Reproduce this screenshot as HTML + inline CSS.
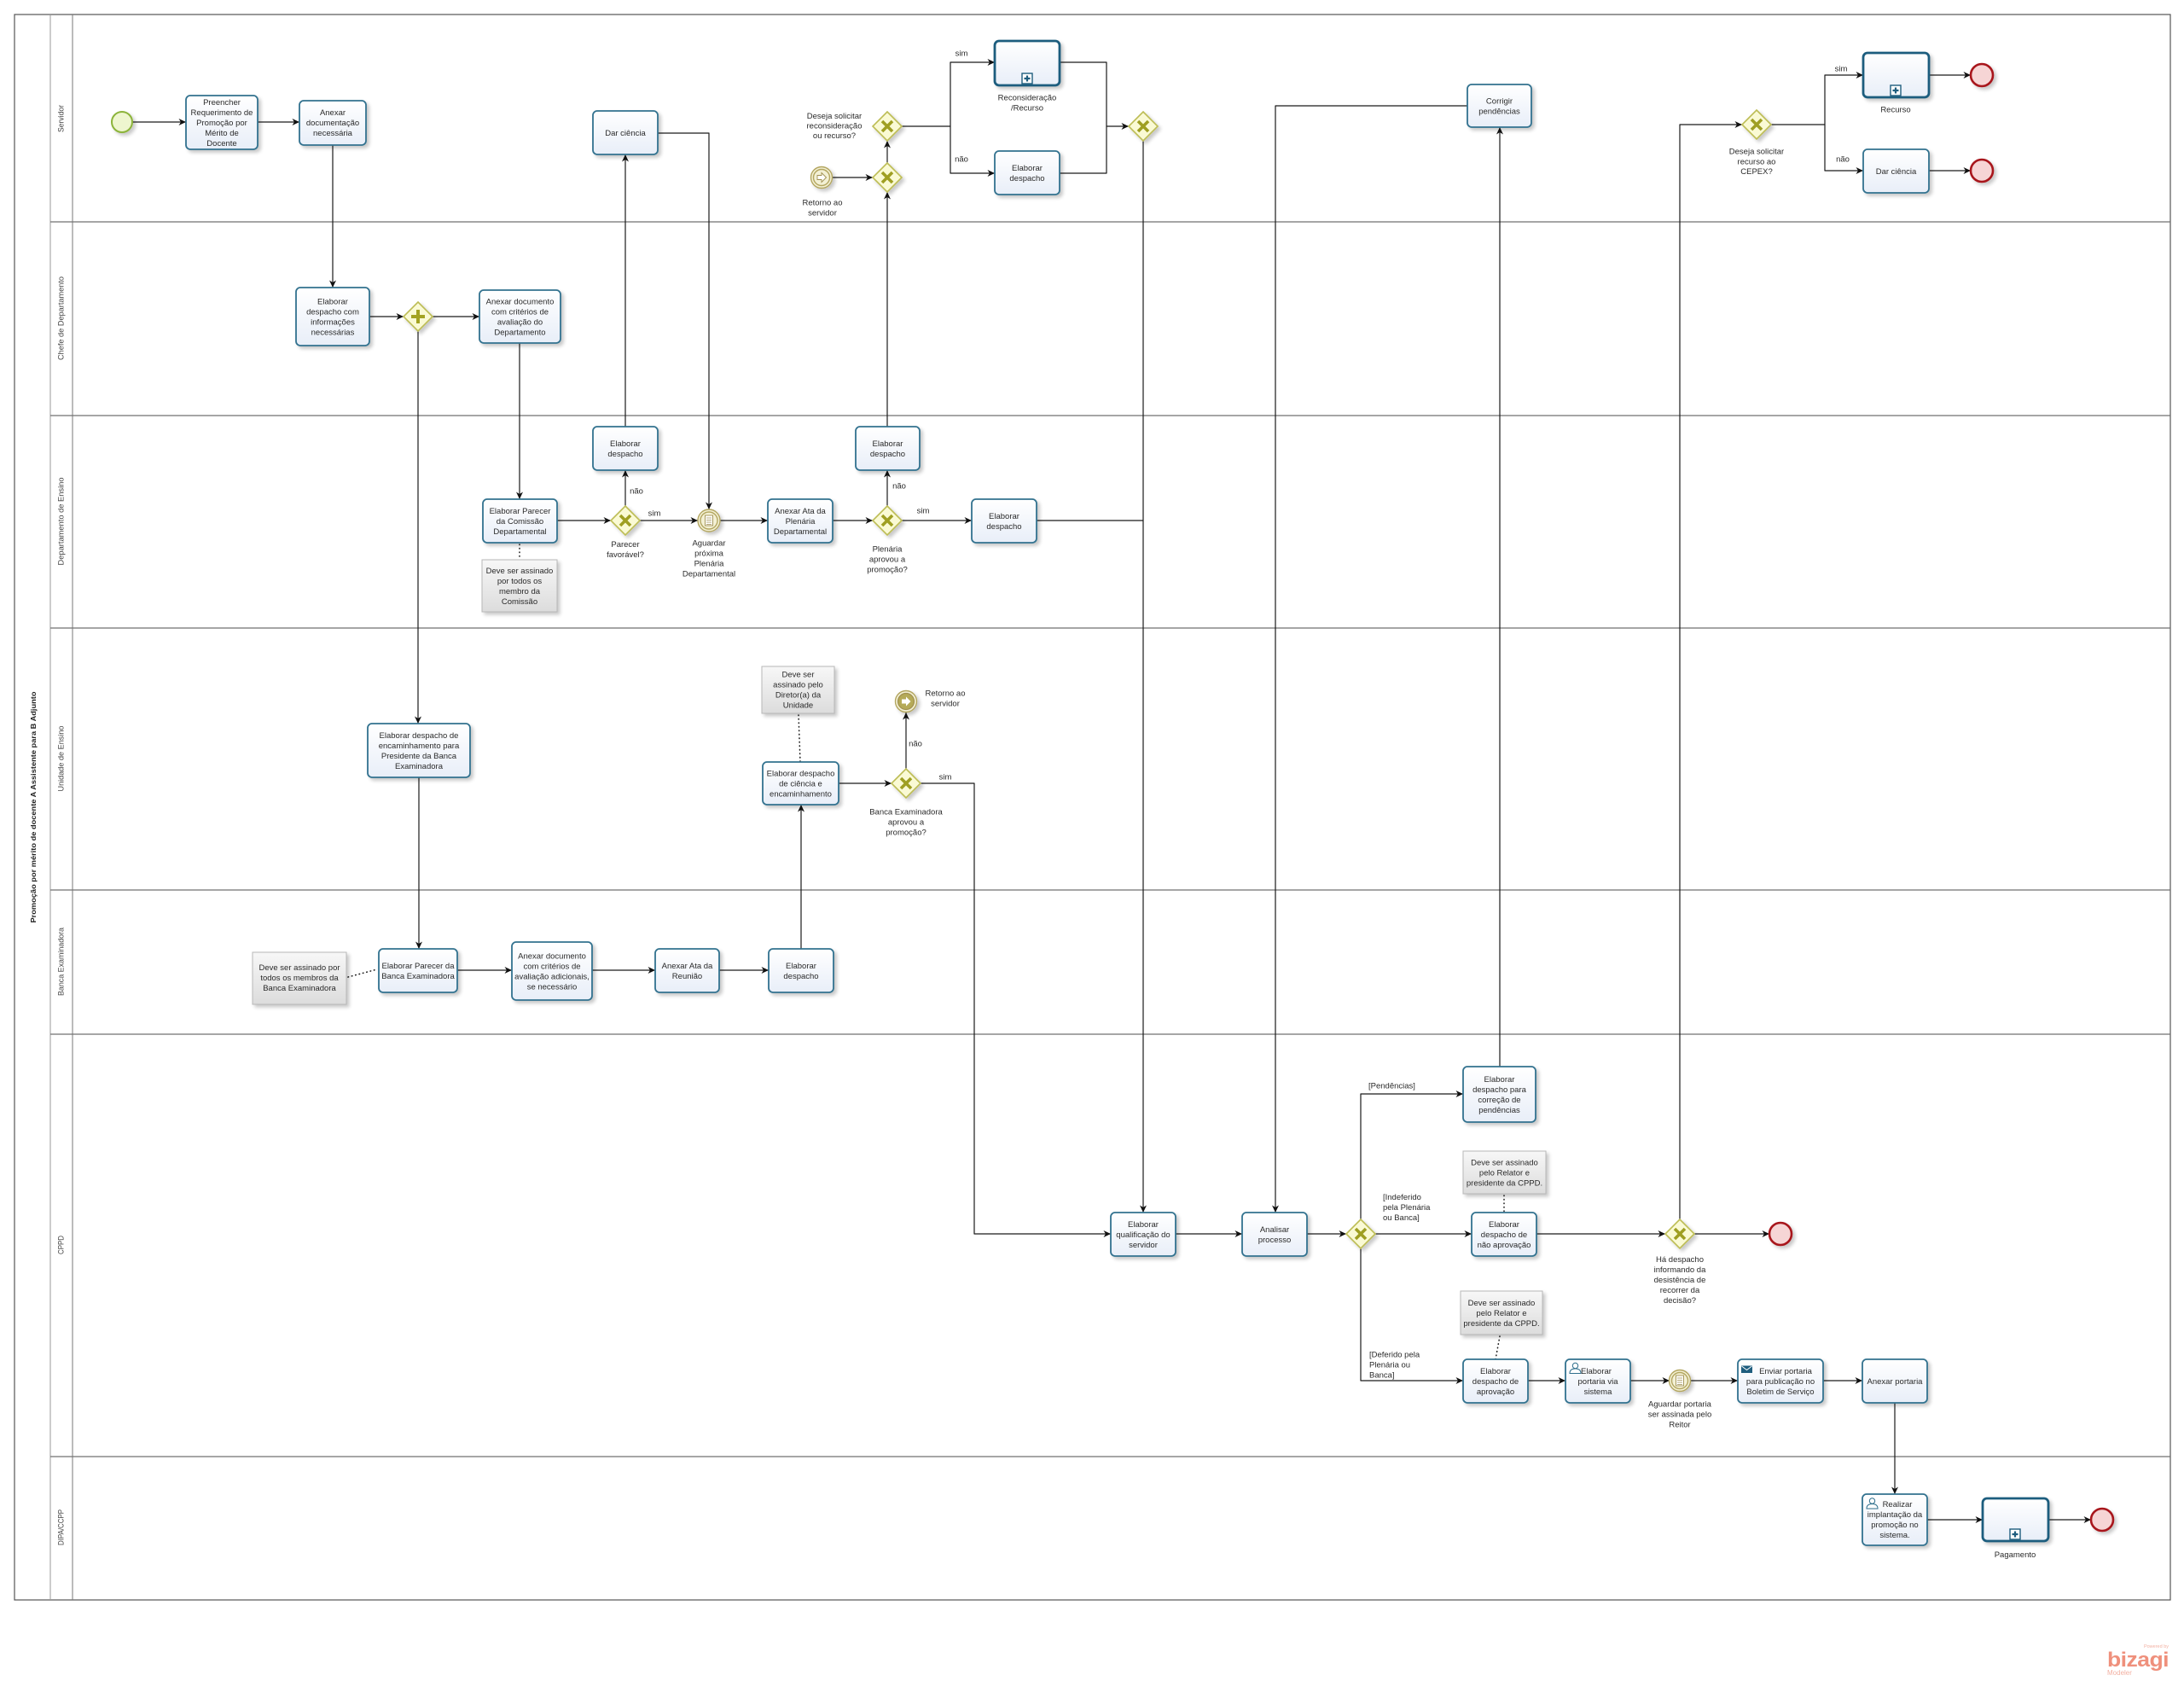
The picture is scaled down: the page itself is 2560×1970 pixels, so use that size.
<!DOCTYPE html>
<html lang="pt">
<head>
<meta charset="utf-8">
<title>Promoção por mérito de docente A Assistente para B Adjunto</title>
<style>
html,body{margin:0;padding:0;background:#fff;}
body{width:2560px;height:1970px;overflow:hidden;}
svg{display:block;}
.t{fill:url(#tg);stroke:#33728f;stroke-width:1.8;filter:url(#sh);}
.sp{fill:url(#tg);stroke:#1e5d7e;stroke-width:2.8;filter:url(#sh);}
.n{fill:url(#ng);stroke:#b8b8b8;stroke-width:1;filter:url(#sh);}
.c{fill:none;stroke:#1a1a1a;stroke-width:1.2;marker-end:url(#ar);stroke-linejoin:round;}
.cn{fill:none;stroke:#1a1a1a;stroke-width:1.2;stroke-linejoin:round;}
.d{fill:none;stroke:#222;stroke-width:1.6;stroke-dasharray:0.5 4;stroke-linecap:round;}
.g{fill:#fafad4;stroke:#bdbd55;stroke-width:1.6;filter:url(#sh);}
.gx{stroke:#9f9f22;stroke-width:3.6;fill:none;}
.gp{stroke:#a3a322;stroke-width:4;fill:none;}
text{font-family:"Liberation Sans",Arial,sans-serif;font-size:9.5px;fill:#2a2a2a;text-anchor:middle;}
.l{text-anchor:start;}
.ll{font-size:9px;fill:#444;}
.pt{font-size:8.6px;font-weight:bold;fill:#222;}
.ev{fill:#f3f0d4;stroke:#b3a660;stroke-width:1.4;filter:url(#sh);}
.evi{fill:none;stroke:#b3a660;stroke-width:1.4;}
.st{fill:#eef6cf;stroke:#8cb43a;stroke-width:2;filter:url(#sh);}
.en{fill:#f6d5d5;stroke:#a8191c;stroke-width:2.6;filter:url(#sh);}
.mk{fill:#fff;stroke:#1e5d7e;stroke-width:1.4;}
</style>
</head>
<body>
<svg width="2560" height="1970" viewBox="0 0 2560 1970" xmlns="http://www.w3.org/2000/svg">
<defs>
<linearGradient id="tg" x1="0" y1="0" x2="0" y2="1"><stop offset="0" stop-color="#ffffff"/><stop offset="1" stop-color="#e8eef8"/></linearGradient>
<linearGradient id="ng" x1="0" y1="0" x2="0" y2="1"><stop offset="0" stop-color="#f7f7f7"/><stop offset="1" stop-color="#dcdcdc"/></linearGradient>
<filter id="sh" x="-20%" y="-20%" width="150%" height="160%">
<feGaussianBlur in="SourceAlpha" stdDeviation="2"/>
<feOffset dx="3" dy="3" result="o"/>
<feComponentTransfer><feFuncA type="linear" slope="0.22"/></feComponentTransfer>
<feMerge><feMergeNode/><feMergeNode in="SourceGraphic"/></feMerge>
</filter>
<marker id="ar" markerUnits="userSpaceOnUse" markerWidth="9" markerHeight="9" refX="8.5" refY="4.5" orient="auto" viewBox="0 0 9 9">
<path d="M0,0.5 L8.5,4.5 L0,8.5 L2.5,4.5 z" fill="#111"/>
</marker>
</defs>

<!-- Pool & lanes -->
<rect x="17" y="17" width="2527" height="1858" fill="#fff" stroke="#555" stroke-width="1.2"/>
<path d="M59,17V1875" stroke="#9a9a9a" stroke-width="1"/>
<path d="M85,17V1875" stroke="#777" stroke-width="1"/>
<path d="M59,260H2544M59,487H2544M59,736H2544M59,1043H2544M59,1212H2544M59,1707H2544" stroke="#727272" stroke-width="1.3" fill="none"/>

<text class="pt" transform="translate(42,946) rotate(-90)" textLength="271" lengthAdjust="spacingAndGlyphs">Promoção por mérito de docente A Assistente para B Adjunto</text>
<text class="ll" transform="translate(74.5,139) rotate(-90)" textLength="32" lengthAdjust="spacingAndGlyphs">Servidor</text>
<text class="ll" transform="translate(74.5,373) rotate(-90)" textLength="98" lengthAdjust="spacingAndGlyphs">Chefe de Departamento</text>
<text class="ll" transform="translate(74.5,611) rotate(-90)" textLength="103" lengthAdjust="spacingAndGlyphs">Departamento  de Ensino</text>
<text class="ll" transform="translate(74.5,889) rotate(-90)" textLength="77" lengthAdjust="spacingAndGlyphs">Unidade de Ensino</text>
<text class="ll" transform="translate(74.5,1127) rotate(-90)" textLength="80" lengthAdjust="spacingAndGlyphs">Banca Examinadora</text>
<text class="ll" transform="translate(74.5,1459) rotate(-90)" textLength="22" lengthAdjust="spacingAndGlyphs">CPPD</text>
<text class="ll" transform="translate(74.5,1790) rotate(-90)" textLength="42" lengthAdjust="spacingAndGlyphs">DIPA/CCPP</text>

<!-- Connectors -->
<path class="c" d="M155,143H218"/>
<path class="c" d="M302,143H351"/>
<path class="c" d="M390,170V337"/>
<path class="c" d="M771,156H831V597"/>
<path class="c" d="M975,208H1023"/>
<path class="c" d="M1040,191V165"/>
<path class="c" d="M1040,500V225"/>
<path class="c" d="M1057,148H1114V73H1166"/>
<path class="c" d="M1114,148V203H1166"/>
<path class="c" d="M1242,73H1297V148H1323"/>
<path class="cn" d="M1242,203H1297V148"/>
<path class="c" d="M1340,165V1421"/>
<path class="c" d="M1720,124H1495V1421"/>
<path class="c" d="M1758,1250V149"/>
<path class="c" d="M1969,1429V146H2042"/>
<path class="c" d="M2076,146H2139V88H2184"/>
<path class="c" d="M2139,146V200H2184"/>
<path class="c" d="M2261,88H2310"/>
<path class="c" d="M2261,200H2310"/>
<path class="c" d="M433,371H473"/>
<path class="c" d="M507,371H562"/>
<path class="c" d="M490,388V848"/>
<path class="c" d="M609,402V585"/>
<path class="c" d="M653,610H716"/>
<path class="c" d="M733,593V551"/>
<path class="c" d="M750,610H818"/>
<path class="c" d="M733,500V181"/>
<path class="c" d="M844,610H900"/>
<path class="c" d="M976,610H1023"/>
<path class="c" d="M1040,593V551"/>
<path class="c" d="M1057,610H1139"/>
<path class="cn" d="M1215,610H1340"/>
<path class="c" d="M491,911V1112"/>
<path class="c" d="M983,918H1045"/>
<path class="c" d="M1062,901V835"/>
<path class="c" d="M1079,918H1142V1446H1302"/>
<path class="c" d="M536,1137H600"/>
<path class="c" d="M694,1137H768"/>
<path class="c" d="M843,1137H901"/>
<path class="c" d="M939,1112V943"/>
<path class="c" d="M1378,1446H1456"/>
<path class="c" d="M1532,1446H1578"/>
<path class="c" d="M1595,1429V1282H1715"/>
<path class="c" d="M1612,1446H1725"/>
<path class="c" d="M1595,1463V1618H1715"/>
<path class="c" d="M1801,1446H1952"/>
<path class="c" d="M1986,1446H2074"/>
<path class="c" d="M1791,1618H1835"/>
<path class="c" d="M1911,1618H1957"/>
<path class="c" d="M1981,1618H2037"/>
<path class="c" d="M2137,1618H2183"/>
<path class="c" d="M2221,1644V1751"/>
<path class="c" d="M2259,1781H2324"/>
<path class="c" d="M2401,1781H2451"/>

<!-- Association dotted lines -->
<path class="d" d="M609,638V656"/>
<path class="d" d="M936,838L938,893"/>
<path class="d" d="M408,1145L442,1136"/>
<path class="d" d="M1763,1401V1421"/>
<path class="d" d="M1758,1566L1753,1593"/>

<!-- Connector labels -->
<text x="1127" y="65.5">sim</text>
<text x="1127" y="189.5">não</text>
<text x="746" y="578.5">não</text>
<text x="767" y="604.5">sim</text>
<text x="1054" y="572.5">não</text>
<text x="1082" y="601.5">sim</text>
<text x="1073" y="874.5">não</text>
<text x="1108" y="913.5">sim</text>
<text x="2158" y="83.5">sim</text>
<text x="2160" y="189.5">não</text>
<text class="l" x="1604" y="1275.5">[Pendências]</text>
<text class="l"><tspan x="1621" y="1406">[Indeferido</tspan><tspan x="1621" y="1418">pela Plenária</tspan><tspan x="1621" y="1430">ou Banca]</tspan></text>
<text class="l"><tspan x="1605" y="1590.5">[Deferido pela</tspan><tspan x="1605" y="1602.5">Plenária ou</tspan><tspan x="1605" y="1614.5">Banca]</tspan></text>

<!-- ===== Servidor ===== -->
<circle class="st" cx="143" cy="143" r="12"/>

<rect class="t" x="218" y="112" width="84" height="63" rx="5"/>
<text><tspan x="260" y="122.8">Preencher</tspan><tspan x="260" y="134.8">Requerimento de</tspan><tspan x="260" y="146.8">Promoção por</tspan><tspan x="260" y="158.8">Mérito de</tspan><tspan x="260" y="170.8">Docente</tspan></text>

<rect class="t" x="351" y="118" width="78" height="52" rx="5"/>
<text><tspan x="390" y="135">Anexar</tspan><tspan x="390" y="147">documentação</tspan><tspan x="390" y="159">necessária</tspan></text>

<rect class="t" x="695" y="130" width="76" height="51" rx="5"/>
<text x="733" y="159">Dar ciência</text>

<!-- Retorno ao servidor (catch) -->
<g transform="translate(963,208)">
<circle class="ev" r="12.5"/><circle class="evi" r="9.5"/>
<path d="M-5,-2.5H0V-5.5L5.5,0L0,5.5V2.5H-5Z" fill="#fff" stroke="#a09050" stroke-width="0.9"/>
</g>
<text><tspan x="964" y="240.5">Retorno ao</tspan><tspan x="964" y="252.5">servidor</tspan></text>

<g transform="translate(1040,208)"><path class="g" d="M0,-17L17,0L0,17L-17,0Z"/><path class="gx" d="M-6,-6L6,6M6,-6L-6,6"/></g>
<g transform="translate(1040,148)"><path class="g" d="M0,-17L17,0L0,17L-17,0Z"/><path class="gx" d="M-6,-6L6,6M6,-6L-6,6"/></g>
<text><tspan x="978" y="139">Deseja solicitar</tspan><tspan x="978" y="150.5">reconsideração</tspan><tspan x="978" y="162">ou recurso?</tspan></text>

<rect class="sp" x="1166" y="48" width="76" height="52" rx="5"/>
<rect class="mk" x="1198" y="86" width="12" height="12"/>
<path d="M1204,88.5V95.5M1200.5,92H1207.5" stroke="#1e5d7e" stroke-width="2.2"/>
<text><tspan x="1204" y="117.5">Reconsideração</tspan><tspan x="1204" y="129.5">/Recurso</tspan></text>

<rect class="t" x="1166" y="177" width="76" height="51" rx="5"/>
<text><tspan x="1204" y="200">Elaborar</tspan><tspan x="1204" y="212">despacho</tspan></text>

<g transform="translate(1340,148)"><path class="g" d="M0,-17L17,0L0,17L-17,0Z"/><path class="gx" d="M-6,-6L6,6M6,-6L-6,6"/></g>

<rect class="t" x="1720" y="99" width="75" height="50" rx="5"/>
<text><tspan x="1757.5" y="121.5">Corrigir</tspan><tspan x="1757.5" y="133.5">pendências</tspan></text>

<g transform="translate(2059,146)"><path class="g" d="M0,-17L17,0L0,17L-17,0Z"/><path class="gx" d="M-6,-6L6,6M6,-6L-6,6"/></g>
<text><tspan x="2059" y="180.5">Deseja solicitar</tspan><tspan x="2059" y="192.5">recurso ao</tspan><tspan x="2059" y="204">CEPEX?</tspan></text>

<rect class="sp" x="2184" y="62" width="77" height="52" rx="5"/>
<rect class="mk" x="2216" y="100" width="12" height="12"/>
<path d="M2222,102.5V109.5M2218.5,106H2225.5" stroke="#1e5d7e" stroke-width="2.2"/>
<text x="2222" y="131.5">Recurso</text>
<circle class="en" cx="2323" cy="88" r="13"/>

<rect class="t" x="2184" y="175" width="77" height="51" rx="5"/>
<text x="2222.5" y="204">Dar ciência</text>
<circle class="en" cx="2323" cy="200" r="13"/>

<!-- ===== Chefe de Departamento ===== -->
<rect class="t" x="347" y="337" width="86" height="68" rx="5"/>
<text><tspan x="390" y="356.5">Elaborar</tspan><tspan x="390" y="368.5">despacho com</tspan><tspan x="390" y="380.5">informações</tspan><tspan x="390" y="392.5">necessárias</tspan></text>

<g transform="translate(490,371)"><path class="g" d="M0,-17L17,0L0,17L-17,0Z"/><path class="gp" d="M0,-8V8M-8,0H8"/></g>

<rect class="t" x="562" y="340" width="95" height="62" rx="5"/>
<text><tspan x="609.5" y="356.5">Anexar documento</tspan><tspan x="609.5" y="368.5">com critérios de</tspan><tspan x="609.5" y="380.5">avaliação do</tspan><tspan x="609.5" y="392.5">Departamento</tspan></text>

<!-- ===== Departamento de Ensino ===== -->
<rect class="t" x="695" y="500" width="76" height="51" rx="5"/>
<text><tspan x="733" y="523">Elaborar</tspan><tspan x="733" y="535">despacho</tspan></text>

<rect class="t" x="566" y="585" width="87" height="51" rx="5"/>
<text><tspan x="609.5" y="602">Elaborar Parecer</tspan><tspan x="609.5" y="614">da Comissão</tspan><tspan x="609.5" y="626">Departamental</tspan></text>

<rect class="n" x="565" y="656" width="88" height="61"/>
<text><tspan x="609" y="672">Deve ser assinado</tspan><tspan x="609" y="684">por todos os</tspan><tspan x="609" y="696">membro da</tspan><tspan x="609" y="708">Comissão</tspan></text>

<g transform="translate(733,610)"><path class="g" d="M0,-17L17,0L0,17L-17,0Z"/><path class="gx" d="M-6,-6L6,6M6,-6L-6,6"/></g>
<text><tspan x="733" y="641">Parecer</tspan><tspan x="733" y="653">favorável?</tspan></text>

<g transform="translate(831,610)">
<circle class="ev" r="13"/><circle class="evi" r="10"/>
<rect x="-4.5" y="-6" width="9" height="12" fill="#fff" stroke="#a09050" stroke-width="0.9"/>
<path d="M-3,-3H3M-3,-0.5H3M-3,2H3M-3,4.5H3" stroke="#a09050" stroke-width="0.8"/>
</g>
<text><tspan x="831" y="639.5">Aguardar</tspan><tspan x="831" y="651.5">próxima</tspan><tspan x="831" y="663.5">Plenária</tspan><tspan x="831" y="675.5">Departamental</tspan></text>

<rect class="t" x="900" y="585" width="76" height="51" rx="5"/>
<text><tspan x="938" y="602">Anexar Ata da</tspan><tspan x="938" y="614">Plenária</tspan><tspan x="938" y="626">Departamental</tspan></text>

<g transform="translate(1040,610)"><path class="g" d="M0,-17L17,0L0,17L-17,0Z"/><path class="gx" d="M-6,-6L6,6M6,-6L-6,6"/></g>
<text><tspan x="1040" y="646.5">Plenária</tspan><tspan x="1040" y="658.5">aprovou a</tspan><tspan x="1040" y="670.5">promoção?</tspan></text>

<rect class="t" x="1003" y="500" width="75" height="51" rx="5"/>
<text><tspan x="1040.5" y="523">Elaborar</tspan><tspan x="1040.5" y="535">despacho</tspan></text>

<rect class="t" x="1139" y="585" width="76" height="51" rx="5"/>
<text><tspan x="1177" y="608">Elaborar</tspan><tspan x="1177" y="620">despacho</tspan></text>

<!-- ===== Unidade de Ensino ===== -->
<rect class="t" x="431" y="848" width="120" height="63" rx="5"/>
<text><tspan x="491" y="865">Elaborar despacho de</tspan><tspan x="491" y="877">encaminhamento para</tspan><tspan x="491" y="889">Presidente da Banca</tspan><tspan x="491" y="901">Examinadora</tspan></text>

<rect class="n" x="893" y="781" width="85" height="55"/>
<text><tspan x="935.5" y="793.5">Deve ser</tspan><tspan x="935.5" y="805.5">assinado pelo</tspan><tspan x="935.5" y="817.5">Diretor(a) da</tspan><tspan x="935.5" y="829.5">Unidade</tspan></text>

<rect class="t" x="894" y="893" width="89" height="50" rx="5"/>
<text><tspan x="938.5" y="909.5">Elaborar despacho</tspan><tspan x="938.5" y="921.5">de ciência e</tspan><tspan x="938.5" y="933.5">encaminhamento</tspan></text>

<g transform="translate(1062,918)"><path class="g" d="M0,-17L17,0L0,17L-17,0Z"/><path class="gx" d="M-6,-6L6,6M6,-6L-6,6"/></g>
<text><tspan x="1062" y="954.5">Banca Examinadora</tspan><tspan x="1062" y="966.5">aprovou a</tspan><tspan x="1062" y="978.5">promoção?</tspan></text>

<g transform="translate(1062,822)">
<circle class="ev" r="12.5"/><circle cx="0" cy="0" r="9.5" fill="#b5aa58" stroke="#a09050" stroke-width="1.2"/>
<path d="M-5,-2.5H0V-5.5L5.5,0L0,5.5V2.5H-5Z" fill="#fff" stroke="none"/>
</g>
<text><tspan x="1108" y="815.5">Retorno ao</tspan><tspan x="1108" y="827.5">servidor</tspan></text>

<!-- ===== Banca Examinadora ===== -->
<rect class="n" x="296" y="1116" width="110" height="61"/>
<text><tspan x="351" y="1137">Deve ser assinado por</tspan><tspan x="351" y="1149">todos os membros da</tspan><tspan x="351" y="1161">Banca  Examinadora</tspan></text>

<rect class="t" x="444" y="1112" width="92" height="51" rx="5"/>
<text><tspan x="490" y="1135">Elaborar Parecer da</tspan><tspan x="490" y="1147">Banca Examinadora</tspan></text>

<rect class="t" x="600" y="1104" width="94" height="68" rx="5"/>
<text><tspan x="647" y="1123.5">Anexar documento</tspan><tspan x="647" y="1135.5">com critérios de</tspan><tspan x="647" y="1147.5">avaliação adicionais,</tspan><tspan x="647" y="1159.5">se necessário</tspan></text>

<rect class="t" x="768" y="1112" width="75" height="51" rx="5"/>
<text><tspan x="805.5" y="1135">Anexar Ata da</tspan><tspan x="805.5" y="1147">Reunião</tspan></text>

<rect class="t" x="901" y="1112" width="76" height="51" rx="5"/>
<text><tspan x="939" y="1135">Elaborar</tspan><tspan x="939" y="1147">despacho</tspan></text>

<!-- ===== CPPD ===== -->
<rect class="t" x="1302" y="1421" width="76" height="51" rx="5"/>
<text><tspan x="1340" y="1438">Elaborar</tspan><tspan x="1340" y="1450">qualificação do</tspan><tspan x="1340" y="1462">servidor</tspan></text>

<rect class="t" x="1456" y="1421" width="76" height="51" rx="5"/>
<text><tspan x="1494" y="1444">Analisar</tspan><tspan x="1494" y="1456">processo</tspan></text>

<g transform="translate(1595,1446)"><path class="g" d="M0,-17L17,0L0,17L-17,0Z"/><path class="gx" d="M-6,-6L6,6M6,-6L-6,6"/></g>

<rect class="t" x="1715" y="1250" width="85" height="65" rx="5"/>
<text><tspan x="1757.5" y="1268">Elaborar</tspan><tspan x="1757.5" y="1280">despacho para</tspan><tspan x="1757.5" y="1292">correção de</tspan><tspan x="1757.5" y="1304">pendências</tspan></text>

<rect class="n" x="1715" y="1349" width="97" height="50"/>
<text><tspan x="1763.5" y="1365.5">Deve ser assinado</tspan><tspan x="1763.5" y="1377.5">pelo Relator e</tspan><tspan x="1763.5" y="1389.5">presidente da CPPD.</tspan></text>

<rect class="t" x="1725" y="1421" width="76" height="51" rx="5"/>
<text><tspan x="1763" y="1438">Elaborar</tspan><tspan x="1763" y="1450">despacho de</tspan><tspan x="1763" y="1462">não aprovação</tspan></text>

<rect class="n" x="1712" y="1513" width="96" height="51"/>
<text><tspan x="1760" y="1530">Deve ser assinado</tspan><tspan x="1760" y="1542">pelo Relator e</tspan><tspan x="1760" y="1554">presidente da CPPD.</tspan></text>

<rect class="t" x="1715" y="1593" width="76" height="51" rx="5"/>
<text><tspan x="1753" y="1610">Elaborar</tspan><tspan x="1753" y="1622">despacho de</tspan><tspan x="1753" y="1634">aprovação</tspan></text>

<rect class="t" x="1835" y="1593" width="76" height="51" rx="5"/>
<g fill="#fff" stroke="#2f6f8c" stroke-width="1">
<path d="M1840,1609.5q0,-5.5 6.5,-5.5q6.5,0 6.5,5.5z"/>
<circle cx="1846.5" cy="1600.5" r="3.2"/>
</g>
<text><tspan x="1871" y="1610">Elaborar</tspan><tspan x="1873" y="1622">portaria via</tspan><tspan x="1873" y="1634">sistema</tspan></text>

<g transform="translate(1969,1618)">
<circle class="ev" r="12.5"/><circle class="evi" r="9.5"/>
<rect x="-4.5" y="-6" width="9" height="12" fill="#fff" stroke="#a09050" stroke-width="0.9"/>
<path d="M-3,-3H3M-3,-0.5H3M-3,2H3M-3,4.5H3" stroke="#a09050" stroke-width="0.8"/>
</g>
<text><tspan x="1969" y="1648.5">Aguardar portaria</tspan><tspan x="1969" y="1660.5">ser assinada pelo</tspan><tspan x="1969" y="1672.5">Reitor</tspan></text>

<rect class="t" x="2037" y="1593" width="100" height="51" rx="5"/>
<rect x="2041" y="1600.5" width="13" height="8.5" fill="#1e5d7e"/>
<path d="M2041.5,1601L2047.5,1605.5L2053.5,1601" stroke="#fff" stroke-width="1" fill="none"/>
<text><tspan x="2093" y="1610">Enviar portaria</tspan><tspan x="2087" y="1622">para publicação no</tspan><tspan x="2087" y="1634">Boletim de Serviço</tspan></text>

<rect class="t" x="2183" y="1593" width="76" height="51" rx="5"/>
<text x="2221" y="1622">Anexar portaria</text>

<g transform="translate(1969,1446)"><path class="g" d="M0,-17L17,0L0,17L-17,0Z"/><path class="gx" d="M-6,-6L6,6M6,-6L-6,6"/></g>
<text><tspan x="1969" y="1479">Há despacho</tspan><tspan x="1969" y="1491">informando da</tspan><tspan x="1969" y="1503">desistência de</tspan><tspan x="1969" y="1515">recorrer da</tspan><tspan x="1969" y="1527">decisão?</tspan></text>

<circle class="en" cx="2087" cy="1446" r="13"/>

<!-- ===== DIPA/CCPP ===== -->
<rect class="t" x="2183" y="1751" width="76" height="60" rx="5"/>
<g fill="#fff" stroke="#2f6f8c" stroke-width="1">
<path d="M2188,1768q0,-5.5 6.5,-5.5q6.5,0 6.5,5.5z"/>
<circle cx="2194.5" cy="1759" r="3.2"/>
</g>
<text><tspan x="2224" y="1766">Realizar</tspan><tspan x="2221" y="1778">implantação da</tspan><tspan x="2221" y="1790">promoção no</tspan><tspan x="2221" y="1802">sistema.</tspan></text>

<rect class="sp" x="2324" y="1756" width="77" height="50" rx="5"/>
<rect class="mk" x="2356" y="1792" width="12" height="12"/>
<path d="M2362,1794.5V1801.5M2358.5,1798H2365.5" stroke="#1e5d7e" stroke-width="2.2"/>
<text x="2362" y="1825">Pagamento</text>

<circle class="en" cx="2464" cy="1781" r="13"/>

<!-- Bizagi logo -->
<text x="2542" y="1931" style="font-size:5.5px;fill:#f3b0a2;text-anchor:end;">Powered by</text>
<text x="2506" y="1953" style="font-size:24px;font-weight:bold;fill:#ef907c;letter-spacing:-0.5px;" textLength="72" lengthAdjust="spacingAndGlyphs">bizagi</text>
<text x="2470" y="1963" style="font-size:8px;fill:#f3b0a2;text-anchor:start;">Modeler</text>
</svg>
</body>
</html>
